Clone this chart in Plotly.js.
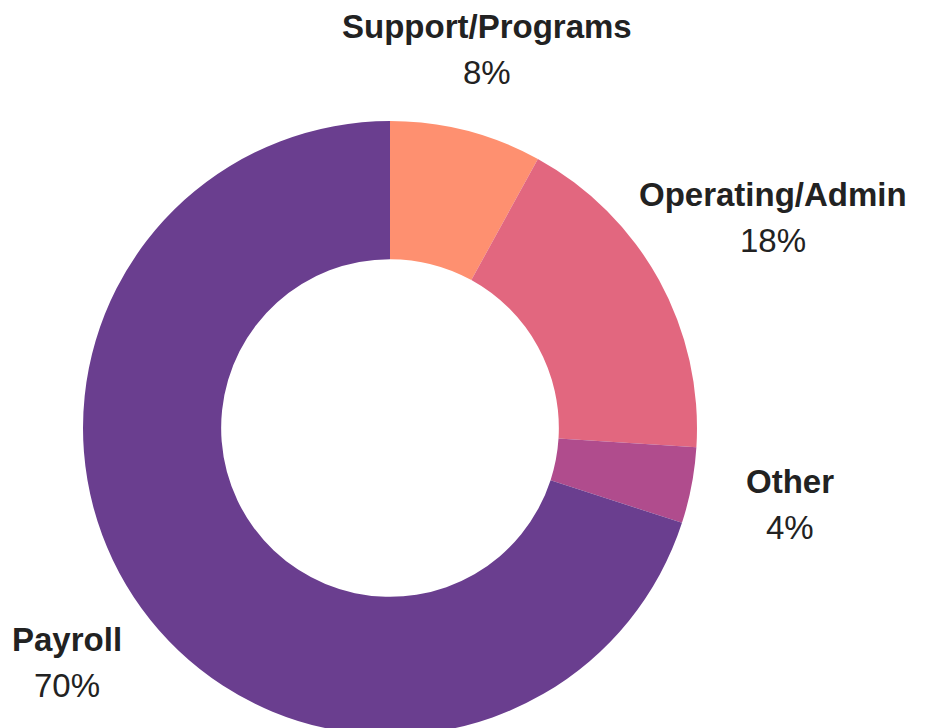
<!DOCTYPE html>
<html>
<head>
<meta charset="utf-8">
<script src="https://cdn.plot.ly/plotly-3.0.1.min.js"></script>
<style>
html, body { margin: 0; padding: 0; overflow: hidden; background: #fff; }
#chart { width: 927px; height: 760px; }
</style>
</head>
<body>
<div id="chart"></div>
<script>
// Data
const categories = ['Support/Programs', 'Operating/Admin', 'Other', 'Payroll'];
const shares = [8, 18, 4, 70];
const sliceColors = ['#FE9070', '#E2677F', '#B04C8D', '#6A3E8F'];

// Layout helpers (pixel geometry of the page)
const W = 927, H = 760;
const cx = 390, cy = 428, R = 307;
const labelRadius = [391, 437, 407, 399];
const lineGap = 46;

const total = shares.reduce((a, b) => a + b, 0);
const annotations = [];
let cum = 0;
shares.forEach((v, i) => {
  const mid = (cum + v / 2) / total * 2 * Math.PI;
  cum += v;
  const px = cx + labelRadius[i] * Math.sin(mid);
  const py = cy - labelRadius[i] * Math.cos(mid);
  const base = {
    xref: 'paper', yref: 'paper', showarrow: false,
    xanchor: 'center', yanchor: 'middle', x: px / W
  };
  annotations.push(Object.assign({}, base, {
    y: 1 - (py - lineGap / 2) / H,
    text: '<b>' + categories[i] + '</b>',
    font: { family: 'Liberation Sans, Arial, sans-serif', size: 33, color: '#222222' }
  }));
  annotations.push(Object.assign({}, base, {
    y: 1 - (py + lineGap / 2) / H,
    text: Math.round(v / total * 100) + '%',
    font: { family: 'Liberation Sans, Arial, sans-serif', size: 33, color: '#222222' }
  }));
});

const trace = {
  type: 'pie',
  labels: categories,
  values: shares,
  sort: false,
  direction: 'clockwise',
  rotation: 0,
  hole: 0.55,
  textinfo: 'none',
  hoverinfo: 'label+percent',
  marker: { colors: sliceColors, line: { width: 0 } },
  domain: { x: [(cx - R) / W, (cx + R) / W], y: [1 - (cy + R) / H, 1 - (cy - R) / H] },
  showlegend: false
};

Plotly.newPlot('chart', [trace], {
  width: W, height: H,
  margin: { l: 0, r: 0, t: 0, b: 0 },
  paper_bgcolor: '#ffffff',
  showlegend: false,
  annotations: annotations
}, { displayModeBar: false, staticPlot: true });
</script>
</body>
</html>
